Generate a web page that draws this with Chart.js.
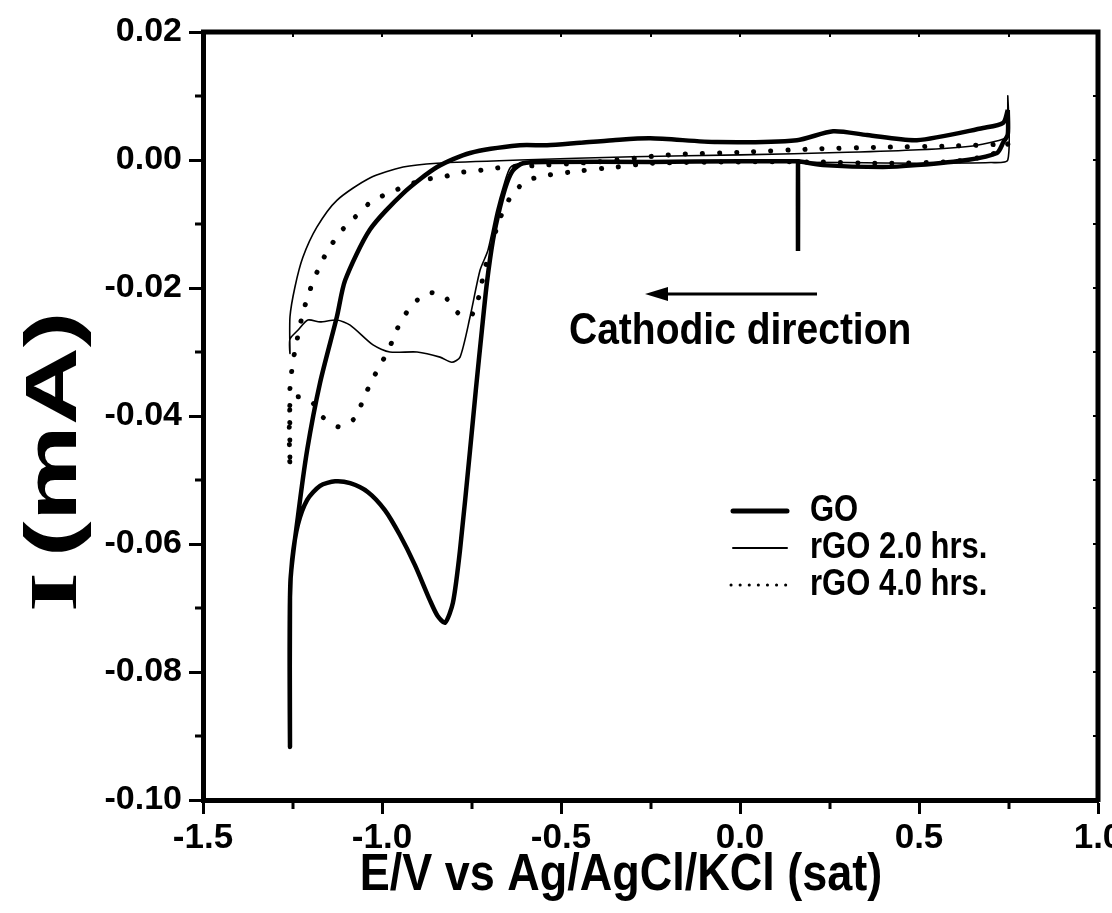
<!DOCTYPE html>
<html>
<head>
<meta charset="utf-8">
<script src="https://cdn.jsdelivr.net/npm/chart.js@4.4.1/dist/chart.umd.min.js"></script>
<style>
  html, body { margin: 0; padding: 0; background: #fff; }
  #wrap { width: 1112px; height: 913px; }
</style>
</head>
<body>
<div id="wrap"><canvas id="cv" width="1112" height="913"></canvas></div>
<script>
// Potential (V) and current (mA), one loop per sample
const goE = [0.748, 0.748, 0.735, 0.718, 0.634, 0.494, 0.399, 0.232, 0.164, 0.162, 0.162, 0.162, 0.160, 0.0, -0.251, -0.539, -0.606, -0.634, -0.651, -0.670, -0.690, -0.707, -0.721, -0.738, -0.754, -0.782, -0.802, -0.824, -0.845, -0.866, -0.908, -0.950, -0.992, -1.039, -1.089, -1.131, -1.173, -1.209, -1.235, -1.251, -1.257, -1.257, -1.256, -1.235, -1.209, -1.173, -1.126, -1.103, -1.034, -0.941, -0.846, -0.754, -0.615, -0.539, -0.447, -0.355, -0.251, -0.064, 0.159, 0.260, 0.355, 0.494, 0.679, 0.735, 0.748];
const goI = [0.0078, 0.0040, 0.0027, 0.0011, 0.0000, -0.0008, -0.0011, -0.0008, -0.0002, -0.0002, -0.0142, -0.0002, -0.0002, -0.0002, -0.0003, -0.0003, -0.0005, -0.0016, -0.0036, -0.0073, -0.0125, -0.0192, -0.0266, -0.0360, -0.0453, -0.0609, -0.0692, -0.0723, -0.0712, -0.0688, -0.0633, -0.0586, -0.0547, -0.0519, -0.0505, -0.0502, -0.0509, -0.0531, -0.0570, -0.0625, -0.0683, -0.0917, -0.0661, -0.0558, -0.0453, -0.0348, -0.0245, -0.0188, -0.0109, -0.0052, -0.0011, 0.0011, 0.0023, 0.0023, 0.0027, 0.0031, 0.0034, 0.0028, 0.0031, 0.0045, 0.0039, 0.0031, 0.0050, 0.0058, 0.0078];

const rgo2E = [0.748, 0.748, 0.748, 0.70, 0.50, 0.30, 0.00, -0.30, -0.55, -0.615, -0.642, -0.660, -0.680, -0.704, -0.726, -0.754, -0.782, -0.805, -0.838, -0.902, -0.978, -1.025, -1.089, -1.126, -1.173, -1.207, -1.235, -1.257, -1.257, -1.257, -1.243, -1.221, -1.182, -1.126, -1.034, -0.941, -0.846, -0.615, -0.30, 0.00, 0.30, 0.50, 0.65, 0.72, 0.748];
const rgo2I = [0.0035, 0.0100, 0.0000, -0.0004, -0.0005, -0.0004, -0.0003, -0.0003, -0.0003, -0.0005, -0.0012, -0.0040, -0.0080, -0.0141, -0.0172, -0.0245, -0.0308, -0.0316, -0.0308, -0.0300, -0.0300, -0.0289, -0.0258, -0.0250, -0.0253, -0.0250, -0.0266, -0.0280, -0.0302, -0.0245, -0.0198, -0.0152, -0.0105, -0.0063, -0.0028, -0.0011, -0.0005, 0.0000, 0.0005, 0.0008, 0.0012, 0.0016, 0.0022, 0.0030, 0.0035];

const rgo4E = [0.748, 0.70, 0.60, 0.40, 0.20, 0.00, -0.246, -0.344, -0.447, -0.550, -0.601, -0.642, -0.670, -0.704, -0.718, -0.728, -0.749, -0.770, -0.788, -0.830, -0.874, -0.916, -0.950, -0.972, -1.000, -1.028, -1.053, -1.075, -1.120, -1.165, -1.196, -1.235, -1.257, -1.257, -1.257, -1.251, -1.243, -1.221, -1.201, -1.179, -1.154, -1.117, -1.075, -1.034, -0.983, -0.885, -0.832, -0.788, -0.735, -0.690, -0.642, -0.40, -0.20, 0.00, 0.20, 0.40, 0.60, 0.748];
const rgo4I = [0.0025, 0.0008, -0.0002, -0.0005, -0.0003, -0.0003, -0.0005, -0.0011, -0.0017, -0.0025, -0.0034, -0.0059, -0.0091, -0.0152, -0.0183, -0.0211, -0.0242, -0.0245, -0.0239, -0.0211, -0.0208, -0.0227, -0.0255, -0.0284, -0.0316, -0.0344, -0.0375, -0.0403, -0.0417, -0.0402, -0.0378, -0.0370, -0.0386, -0.0481, -0.0355, -0.0325, -0.0297, -0.0239, -0.0203, -0.0172, -0.0144, -0.0113, -0.0089, -0.0067, -0.0052, -0.0031, -0.0027, -0.0020, -0.0017, -0.0013, -0.0011, -0.0003, 0.0008, 0.0012, 0.0017, 0.0020, 0.0022, 0.0025];

const seriesNames = ['GO', 'rGO 2.0 hrs.', 'rGO 4.0 hrs.'];
const xTitle = 'E/V vs Ag/AgCl/KCl (sat)';
const noteText = 'Cathodic direction';

const SANS = "'Liberation Sans', Arial, sans-serif";
const SERIF = "'Liberation Serif', 'Times New Roman', serif";

const toPoints = (E, I) => E.map((e, i) => ({ x: e, y: I[i] }));

// draw text stretched vertically (the original lettering is tall)
function tallText(ctx, txt, x, y, sy) {
    ctx.save();
    ctx.translate(x, y);
    ctx.scale(1, sy);
    ctx.fillText(txt, 0, 0);
    ctx.restore();
}

const decor = {
    id: 'decor',
    afterDraw(chart) {
        const { ctx, chartArea: a, scales: { x, y } } = chart;
        ctx.save();
        ctx.strokeStyle = '#000';
        ctx.fillStyle = '#000';

        // top and right frame
        ctx.lineWidth = 5;
        ctx.lineCap = 'butt';
        ctx.beginPath();
        ctx.moveTo(a.left - 2, a.top);
        ctx.lineTo(a.right, a.top);
        ctx.lineTo(a.right, a.bottom + 2);
        ctx.stroke();

        // minor ticks, outward on left/bottom
        ctx.lineWidth = 3;
        for (let v = -0.09; v < 0.02; v += 0.02) {
            const py = Math.round(y.getPixelForValue(v));
            ctx.beginPath(); ctx.moveTo(a.left, py); ctx.lineTo(a.left - 8, py); ctx.stroke();
        }
        for (let v = -1.25; v < 1.0; v += 0.5) {
            const px = Math.round(x.getPixelForValue(v));
            ctx.beginPath(); ctx.moveTo(px, a.bottom); ctx.lineTo(px, a.bottom + 9); ctx.stroke();
        }
        // small inward ticks on top and right
        ctx.lineWidth = 2;
        for (let v = -1.25; v < 1.0; v += 0.25) {
            const px = Math.round(x.getPixelForValue(v));
            ctx.beginPath(); ctx.moveTo(px, a.top); ctx.lineTo(px, a.top + 5); ctx.stroke();
        }
        for (let v = -0.09; v < 0.02; v += 0.01) {
            const py = Math.round(y.getPixelForValue(v));
            ctx.beginPath(); ctx.moveTo(a.right, py); ctx.lineTo(a.right - 5, py); ctx.stroke();
        }

        // legend
        const rows = [511, 548, 585];
        chart.data.datasets.forEach((ds, i) => {
            const ly = rows[i];
            ctx.save();
            ctx.lineWidth = i === 0 ? 5 : (i === 1 ? 2 : 3);
            ctx.lineCap = 'round';
            if (i === 2) ctx.setLineDash([0.1, 9]);
            ctx.beginPath();
            ctx.moveTo(i === 2 ? 731 : 733, ly);
            ctx.lineTo(787, ly);
            ctx.stroke();
            ctx.restore();
            ctx.font = `bold 31px ${SANS}`;
            ctx.textBaseline = 'middle';
            ctx.textAlign = 'left';
            tallText(ctx, ds.label, 810, ly, 1.2);
        });

        // arrow + note
        ctx.lineWidth = 3;
        ctx.lineCap = 'butt';
        ctx.beginPath(); ctx.moveTo(817, 294); ctx.lineTo(662, 294); ctx.stroke();
        ctx.beginPath();
        ctx.moveTo(645, 294); ctx.lineTo(668, 287); ctx.lineTo(668, 301); ctx.closePath(); ctx.fill();
        ctx.font = `bold 39px ${SANS}`;
        ctx.textBaseline = 'alphabetic';
        ctx.textAlign = 'left';
        tallText(ctx, noteText, 569, 344, 1.12);

        // x title
        ctx.font = `bold 45px ${SANS}`;
        ctx.textAlign = 'center';
        tallText(ctx, xTitle, 621, 890, 1.16);

        // y title: serif "I", sans "(mA)", lettering long along the axis
        ctx.save();
        ctx.translate(76, 612);
        ctx.rotate(-Math.PI / 2);
        ctx.scale(1.5, 1);
        ctx.textAlign = 'left';
        ctx.textBaseline = 'alphabetic';
        ctx.font = `bold 68px ${SERIF}`;
        ctx.fillText('I', 0, 0);
        const w = ctx.measureText('I').width;
        ctx.font = `bold 72px ${SANS}`;
        ctx.fillText('(mA)', w + 10, 0);
        ctx.restore();

        ctx.restore();
    }
};

new Chart(document.getElementById('cv'), {
    type: 'scatter',
    data: {
        datasets: [
            {
                label: seriesNames[0],
                data: toPoints(goE, goI),
                showLine: true,
                borderColor: '#000',
                borderWidth: 4.5,
                tension: 0.25,
                pointRadius: 0
            },
            {
                label: seriesNames[1],
                data: toPoints(rgo2E, rgo2I),
                showLine: true,
                borderColor: '#000',
                borderWidth: 1.6,
                tension: 0.25,
                pointRadius: 0
            },
            {
                label: seriesNames[2],
                data: toPoints(rgo4E, rgo4I),
                showLine: true,
                borderColor: '#000',
                borderWidth: 5,
                borderCapStyle: 'round',
                borderDash: [0.1, 17],
                tension: 0.25,
                pointRadius: 0
            }
        ]
    },
    options: {
        responsive: false,
        animation: false,
        layout: { padding: { top: 32, right: 14, left: 0, bottom: 0 } },
        plugins: {
            legend: { display: false },
            tooltip: { enabled: false }
        },
        scales: {
            x: {
                type: 'linear',
                min: -1.5,
                max: 1.0,
                ticks: {
                    stepSize: 0.5,
                    autoSkip: false,
                    maxRotation: 0,
                    color: '#000',
                    font: { family: SANS, size: 35, weight: 'bold' },
                    padding: 3,
                    callback: v => v.toFixed(1)
                },
                grid: { drawOnChartArea: false, tickLength: 14, tickWidth: 3, tickColor: '#000' },
                border: { display: true, width: 5, color: '#000' },
                afterFit(s) { s.height = 113; s.paddingLeft = 0; s.paddingRight = 0; }
            },
            y: {
                type: 'linear',
                min: -0.10,
                max: 0.02,
                ticks: {
                    stepSize: 0.02,
                    autoSkip: false,
                    color: '#000',
                    font: { family: SANS, size: 34, weight: 'bold' },
                    padding: 7,
                    callback: v => v.toFixed(2)
                },
                grid: { drawOnChartArea: false, tickLength: 14, tickWidth: 3, tickColor: '#000' },
                border: { display: true, width: 5, color: '#000' },
                afterFit(s) { s.width = 203; s.paddingTop = 0; s.paddingBottom = 0; }
            }
        }
    },
    plugins: [decor]
});
</script>
</body>
</html>
